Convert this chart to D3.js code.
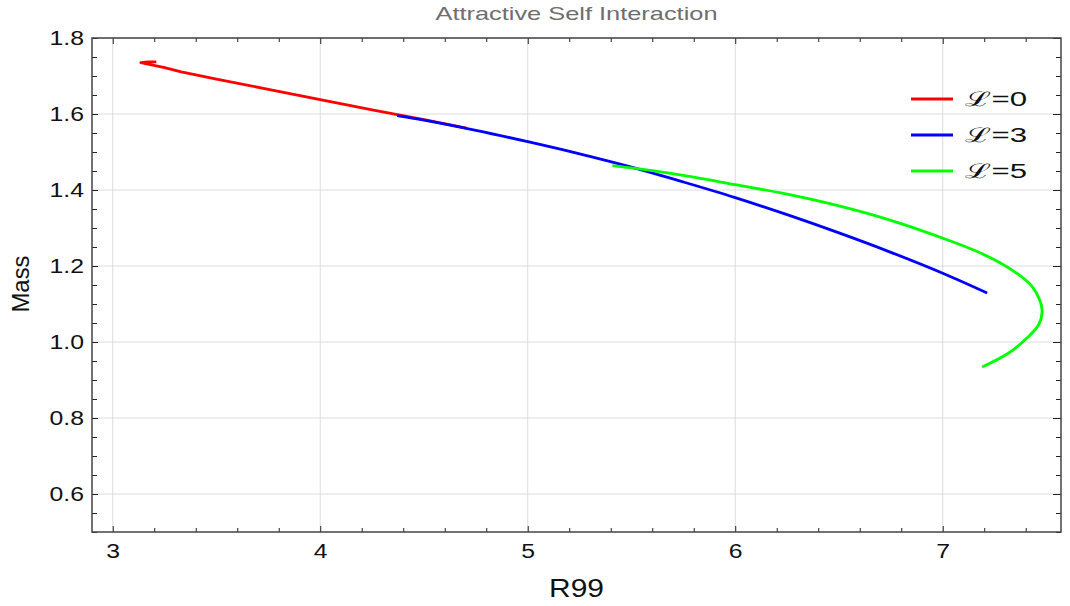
<!DOCTYPE html>
<html lang='en'>
<head>
    <meta charset='UTF-8'>
    <title>Attractive Self Interaction</title>
    <style>
        body { margin: 0; background: #fff; }
        text { font-family: 'Liberation Sans', Arial, sans-serif; }
    </style>
</head>
<body>
<div id="chart-area"></div>
<script src='https://d3js.org/d3.v7.min.js'></script>
<script>

    // data (R99, Mass)
    const seriesNames = ['\u2112=0', '\u2112=3', '\u2112=5'];
    const seriesColors = ['#ff0000', '#0000ff', '#00ff00'];

    const l0Data = [
        [3.21, 1.737], [3.17, 1.737], [3.135, 1.735], [3.17, 1.731], [3.25, 1.722],
        [3.33, 1.711], [3.5, 1.692], [3.75, 1.665], [4.0, 1.638], [4.25, 1.611],
        [4.5, 1.585], [4.705, 1.563]
    ];
    const l3Data = [
        [4.371, 1.596], [4.5, 1.584], [4.75, 1.557], [5.0, 1.527], [5.25, 1.495],
        [5.5, 1.460], [5.75, 1.421], [6.0, 1.380], [6.25, 1.335], [6.5, 1.287],
        [6.75, 1.236], [7.0, 1.181], [7.214, 1.129]
    ];
    const l5Data = [
        [5.408, 1.464], [5.6, 1.451], [5.8, 1.434], [6.0, 1.414], [6.25, 1.389],
        [6.5, 1.358], [6.75, 1.320], [7.021, 1.269], [7.166, 1.238], [7.278, 1.208],
        [7.359, 1.180], [7.431, 1.146], [7.467, 1.111], [7.479, 1.081], [7.463, 1.046],
        [7.407, 1.011], [7.318, 0.971], [7.190, 0.934]
    ];
    const allSeries = [l0Data, l3Data, l5Data];

    const xTicks = [3, 4, 5, 6, 7];
    const yTicks = [0.6, 0.8, 1.0, 1.2, 1.4, 1.6, 1.8];

    const outerWidth = 1070;
    const outerHeight = 606;
    const margin = {top: 38, right: 9, bottom: 74, left: 92};
    const width = outerWidth - margin.left - margin.right;
    const height = outerHeight - margin.top - margin.bottom;

    // the reference text is a little stretched sideways
    const stretch = 1.18;

    const svg = d3.select('#chart-area').append('svg')
        .attr('width', outerWidth)
        .attr('height', outerHeight);

    const g = svg.append('g')
        .attr('transform', `translate(${margin.left}, ${margin.top})`);

    const xScale = d3.scaleLinear().domain([2.9, 7.57]).range([0, width]);
    const yScale = d3.scaleLinear().domain([0.5, 1.8]).range([height, 0]);

    const xMinor = d3.range(3, 7.57, 0.2).filter(v => !xTicks.some(t => Math.abs(t - v) < 1e-6));
    const yMinor = d3.range(0.5, 1.8, 0.05).filter(v => !yTicks.some(t => Math.abs(t - v) < 1e-6));

    // grid
    g.append('g').selectAll('line').data(xTicks).enter().append('line')
        .attr('x1', d => xScale(d)).attr('x2', d => xScale(d))
        .attr('y1', 0).attr('y2', height)
        .attr('stroke', '#dcdcdc').attr('stroke-width', 1);
    g.append('g').selectAll('line').data(yTicks).enter().append('line')
        .attr('x1', 0).attr('x2', width)
        .attr('y1', d => yScale(d)).attr('y2', d => yScale(d))
        .attr('stroke', '#dcdcdc').attr('stroke-width', 1);

    // inward ticks on all four sides
    function styleAxis(sel) {
        sel.select('.domain').remove();
        sel.selectAll('.tick line').attr('stroke', '#222').attr('stroke-width', 1);
        sel.selectAll('.tick text')
            .attr('fill', '#111')
            .style('font-size', '21px')
            .style('font-family', "'Liberation Sans', Arial, sans-serif");
    }

    g.append('g').attr('transform', `translate(0, ${height})`)
        .call(d3.axisBottom(xScale).tickValues(xTicks).tickFormat(d3.format('d')).tickSize(-6).tickPadding(11))
        .call(styleAxis)
        .selectAll('.tick text').attr('transform', `scale(${stretch}, 1)`);
    g.append('g').attr('transform', `translate(0, ${height})`)
        .call(d3.axisBottom(xScale).tickValues(xMinor).tickFormat('').tickSize(-4))
        .call(styleAxis);
    g.append('g')
        .call(d3.axisTop(xScale).tickValues(xTicks).tickFormat('').tickSize(-6))
        .call(styleAxis);
    g.append('g')
        .call(d3.axisTop(xScale).tickValues(xMinor).tickFormat('').tickSize(-4))
        .call(styleAxis);

    g.append('g')
        .call(d3.axisLeft(yScale).tickValues(yTicks).tickFormat(d3.format('.1f')).tickSize(-6).tickPadding(8))
        .call(styleAxis)
        .selectAll('.tick text')
        .attr('x', -8 / stretch)
        .attr('transform', `scale(${stretch}, 1)`);
    g.append('g')
        .call(d3.axisLeft(yScale).tickValues(yMinor).tickFormat('').tickSize(-5))
        .call(styleAxis);
    g.append('g').attr('transform', `translate(${width}, 0)`)
        .call(d3.axisRight(yScale).tickValues(yTicks).tickFormat('').tickSize(-8))
        .call(styleAxis);
    g.append('g').attr('transform', `translate(${width}, 0)`)
        .call(d3.axisRight(yScale).tickValues(yMinor).tickFormat('').tickSize(-5))
        .call(styleAxis);

    // frame
    g.append('rect')
        .attr('width', width).attr('height', height)
        .attr('fill', 'none').attr('stroke', '#444').attr('stroke-width', 1.5);

    // curves
    const lineStraight = d3.line()
        .x(d => xScale(d[0]))
        .y(d => yScale(d[1]));
    const lineSmooth = d3.line()
        .x(d => xScale(d[0]))
        .y(d => yScale(d[1]))
        .curve(d3.curveCatmullRom.alpha(0.5));

    g.append('g').selectAll('path')
        .data(allSeries)
        .enter().append('path')
        .attr('d', (d, i) => i === 0 ? lineStraight(d) : lineSmooth(d))
        .attr('fill', 'none')
        .attr('stroke', (d, i) => seriesColors[i])
        .attr('stroke-width', 2.8)
        .attr('stroke-linejoin', 'round');

    // legend
    const legendItem = g.append('g').selectAll('g')
        .data(seriesNames)
        .enter().append('g')
        .attr('transform', (d, i) => `translate(${819}, ${61 + i * 36})`);
    legendItem.append('line')
        .attr('x1', 0).attr('x2', 42)
        .attr('stroke', (d, i) => seriesColors[i])
        .attr('stroke-width', 2.8);
    legendItem.append('text')
        .attr('x', 54).attr('dy', '0.36em')
        .style('font-size', '20px')
        .attr('textLength', 62)
        .attr('lengthAdjust', 'spacingAndGlyphs')
        .attr('fill', '#111')
        .text(d => d);

    // title and axis labels
    svg.append('text')
        .attr('x', margin.left + width / 2)
        .attr('y', 20)
        .attr('text-anchor', 'middle')
        .style('font-size', '19px')
        .attr('textLength', 282)
        .attr('lengthAdjust', 'spacingAndGlyphs')
        .attr('fill', '#6e6e6e')
        .text('Attractive Self Interaction');

    svg.append('text')
        .attr('x', margin.left + width / 2)
        .attr('y', 597)
        .attr('text-anchor', 'middle')
        .style('font-size', '25px')
        .attr('textLength', 55)
        .attr('lengthAdjust', 'spacingAndGlyphs')
        .attr('fill', '#111')
        .text('R99');

    svg.append('text')
        .attr('transform', `translate(29, ${margin.top + height / 2 - 1}) rotate(-90)`)
        .attr('text-anchor', 'middle')
        .style('font-size', '24px')
        .attr('textLength', 57)
        .attr('lengthAdjust', 'spacingAndGlyphs')
        .attr('fill', '#111')
        .text('Mass');
</script>
</body>
</html>
